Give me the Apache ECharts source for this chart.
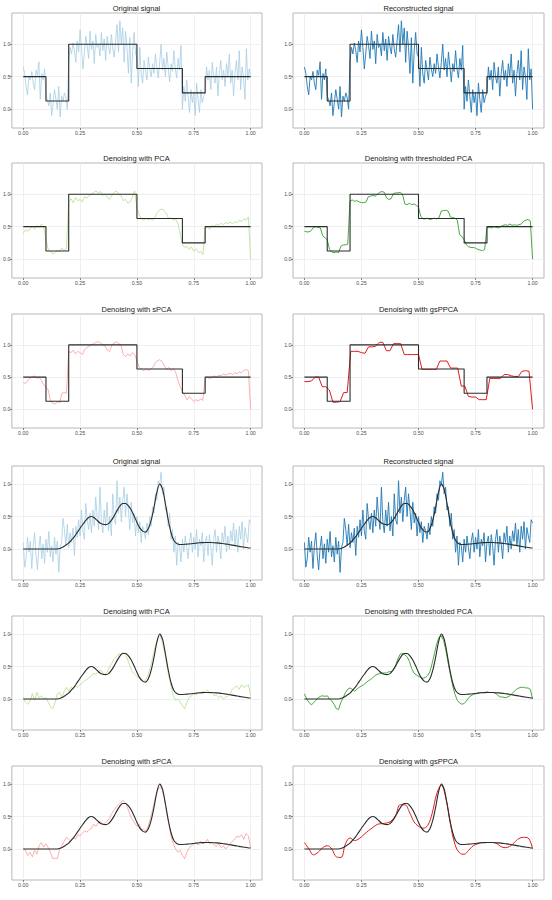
<!DOCTYPE html>
<html><head><meta charset="utf-8">
<script src="https://cdn.jsdelivr.net/npm/echarts@6/dist/echarts.min.js"></script>
<style>html,body{margin:0;padding:0;background:#fff}#c{width:552px;height:900px}</style>
</head><body><div id="c"></div>
<script>
// ---------- data ----------
const xTicks = [0, 0.25, 0.5, 0.75, 1];
const yTicks = [0, 0.5, 1];

const blocksTruthX = [0, 0.1, 0.1, 0.2, 0.2, 0.5, 0.5, 0.7, 0.7, 0.8, 0.8, 1];
const blocksTruthY = [0.5, 0.5, 0.125, 0.125, 1, 1, 0.625, 0.625, 0.25, 0.25, 0.5, 0.5];

const blocksNoisy = [
 0.65,0.55,0.35,0.22,0.5,0.45,0.58,0.4,0.3,0.6,
 0.52,0.73,0.15,0.55,0.45,0.62,0.2,0.15,0.05,0.25,
 -0.1,0.1,0.3,0.15,0.0,0.35,-0.12,0.2,0.12,0.25,
 0.18,0.0,0.75,0.95,0.85,1.02,0.9,0.72,1.05,0.88,
 1.22,0.95,0.62,0.85,1.12,0.98,0.78,1.2,0.92,1.05,
 0.7,1.15,0.95,1.0,0.82,1.18,0.9,1.08,0.75,1.12,
 0.96,0.85,1.15,0.93,0.8,1.05,1.3,0.88,1.36,1.0,
 1.25,0.72,1.2,0.95,0.55,1.1,0.4,0.9,1.18,0.85,
 0.8,0.35,0.95,0.55,0.4,0.75,0.6,0.45,0.8,0.62,
 0.5,0.7,0.55,0.85,0.65,0.48,0.72,1.0,0.6,0.78,
 0.5,0.88,0.65,0.42,0.7,0.58,0.9,0.62,0.48,0.78,
 0.6,0.98,0.0,0.35,0.12,0.45,0.2,-0.05,0.3,0.1,
 0.25,-0.1,0.4,0.15,-0.05,0.3,0.1,0.2,0.25,0.65,
 0.45,0.6,0.3,0.72,0.5,0.4,0.65,0.2,0.55,0.75,
 0.45,0.6,0.35,0.7,0.5,0.85,0.4,0.6,0.2,0.55,
 0.75,0.45,0.9,0.3,0.65,0.5,0.15,0.93,0.45,0.62,
 0.5];
const blocksReconLast = 0.0;

const blocksPCA = [
 0.4,0.45,0.43,0.47,0.5,0.46,0.52,0.49,0.54,0.5,
 0.3,0.15,0.12,0.08,0.1,0.14,0.12,0.17,0.14,0.16,
 0.88,0.93,0.87,0.95,0.9,0.92,0.88,0.96,0.94,0.98,
 1.0,1.03,1.05,1.02,1.04,0.98,1.0,0.95,0.92,0.98,
 1.03,1.05,1.0,0.98,0.9,0.92,0.86,0.88,0.95,1.05,
 0.78,0.68,0.62,0.6,0.63,0.6,0.62,0.6,0.65,0.72,
 0.76,0.77,0.75,0.7,0.62,0.64,0.6,0.62,0.55,0.4,
 0.22,0.18,0.2,0.15,0.19,0.12,0.16,0.1,0.12,0.07,
 0.48,0.5,0.46,0.52,0.5,0.54,0.52,0.55,0.53,0.56,
 0.55,0.57,0.54,0.58,0.56,0.6,0.58,0.62,0.6,0.65,
 0.0];

const blocksTPCA = [
 0.43,0.42,0.42,0.44,0.49,0.5,0.49,0.48,0.36,0.33,
 0.3,0.15,0.11,0.1,0.11,0.1,0.2,0.22,0.22,0.23,
 0.9,0.91,0.89,0.9,0.88,0.87,0.87,0.88,0.96,0.97,
 0.98,0.97,1.0,1.03,1.04,1.03,0.94,0.92,0.93,1.01,
 1.02,1.02,1.03,1.0,0.85,0.84,0.86,0.84,0.85,0.83,
 0.8,0.66,0.62,0.62,0.63,0.61,0.62,0.63,0.62,0.64,
 0.74,0.75,0.75,0.74,0.65,0.64,0.63,0.6,0.38,0.35,
 0.3,0.22,0.19,0.18,0.18,0.17,0.15,0.14,0.13,0.15,
 0.49,0.49,0.48,0.5,0.49,0.48,0.5,0.52,0.53,0.52,
 0.54,0.52,0.53,0.52,0.53,0.54,0.58,0.6,0.61,0.59,
 0.0];

const blocksSPCA = [
 0.42,0.4,0.45,0.48,0.5,0.52,0.48,0.5,0.45,0.38,
 0.35,0.3,0.12,0.1,0.08,0.12,0.1,0.25,0.26,0.25,
 0.9,0.88,0.92,0.86,0.9,0.88,0.85,0.93,0.96,0.98,
 1.0,1.02,1.04,1.05,1.03,1.0,0.98,0.92,0.9,1.0,
 1.03,1.05,1.02,1.0,0.85,0.82,0.86,0.83,0.88,0.85,
 0.75,0.65,0.62,0.6,0.63,0.6,0.62,0.65,0.72,0.75,
 0.77,0.74,0.68,0.62,0.65,0.6,0.63,0.58,0.45,0.35,
 0.28,0.22,0.15,0.2,0.16,0.12,0.15,0.13,0.16,0.14,
 0.48,0.5,0.47,0.5,0.52,0.5,0.53,0.52,0.55,0.53,
 0.55,0.56,0.54,0.57,0.55,0.58,0.57,0.6,0.62,0.6,
 0.0];

const blocksGS = [
 0.43,0.43,0.44,0.5,0.5,0.35,0.35,0.3,0.11,0.11,
 0.12,0.26,0.26,0.9,0.9,0.9,0.88,0.87,0.97,0.97,
 0.98,1.04,1.04,0.91,0.91,1.02,1.02,1.02,0.85,0.85,
 0.85,0.85,0.85,0.62,0.62,0.62,0.62,0.62,0.75,0.75,
 0.75,0.64,0.64,0.64,0.36,0.36,0.2,0.19,0.19,0.15,
 0.15,0.15,0.48,0.48,0.48,0.48,0.54,0.54,0.52,0.51,
 0.51,0.59,0.6,0.59,0.0];

const bumpsTruth = [
 0,0,0,0,0,0,0,0,0,0,0,0,0,
 0.01,0.03,0.06,0.09,0.14,0.19,0.255,0.32,0.38,0.44,0.485,0.5,
 0.48,0.44,0.4,0.38,0.375,0.39,0.44,0.51,0.59,0.66,0.7,0.7,
 0.665,0.6,0.51,0.41,0.325,0.275,0.26,0.31,0.44,0.64,0.87,1.0,
 0.92,0.7,0.45,0.25,0.13,0.085,0.07,0.07,0.072,0.076,0.08,0.085,
 0.09,0.095,0.098,0.1,0.1,0.099,0.097,0.094,0.09,0.085,0.079,0.072,
 0.064,0.056,0.048,0.04,0.033,0.026,0.02,0.015];

const bumpsNoisy = [
 0.1,-0.28,-0.15,0.18,-0.05,0.12,-0.3,0.05,0.25,-0.1,
 -0.32,0.02,0.2,-0.15,0.08,-0.22,0.15,-0.05,0.27,-0.12,
 0.05,-0.2,0.18,-0.08,0.12,-0.36,0.02,0.1,0.47,0.3,
 0.05,0.38,0.02,0.25,0.1,0.32,-0.1,0.35,0.18,0.45,
 0.2,0.6,0.28,0.15,0.7,0.45,0.3,0.55,0.25,0.6,
 0.35,0.8,0.5,0.3,0.95,0.42,0.25,0.6,0.35,0.72,
 0.28,0.5,0.2,0.85,0.45,0.38,1.05,0.55,0.8,0.42,
 0.75,0.95,0.5,0.85,0.6,0.3,0.72,0.4,0.55,0.2,
 0.5,0.25,0.42,0.1,0.35,0.28,0.15,0.4,0.22,0.5,
 0.35,0.65,0.55,0.85,0.75,1.05,0.98,1.18,0.85,0.95,
 0.6,0.65,0.35,0.55,0.15,0.3,-0.05,0.2,-0.25,0.1,
 0.05,-0.2,0.15,-0.05,0.2,0.02,-0.15,0.12,0.25,-0.05,
 0.18,0.0,0.3,-0.12,0.15,0.05,0.25,-0.2,0.1,0.2,
 -0.1,0.22,0.05,-0.25,0.15,0.3,-0.05,0.2,0.08,-0.15,
 0.25,0.1,0.35,-0.05,0.2,0.0,0.28,0.12,0.4,0.05,
 0.3,-0.05,0.35,0.15,0.42,0.0,0.33,0.2,0.1,0.45,
 0.4];

const bumpsPCA = [
 0.03,-0.05,-0.08,-0.03,0.08,-0.02,0.1,0.02,0.05,0.0,
 0.02,-0.05,-0.12,-0.15,-0.05,0.08,0.1,0.02,0.12,0.18,
 0.12,0.18,0.15,0.2,0.18,0.22,0.25,0.28,0.3,0.33,
 0.35,0.4,0.38,0.42,0.45,0.4,0.38,0.42,0.5,0.55,
 0.62,0.65,0.7,0.68,0.72,0.68,0.6,0.5,0.42,0.38,
 0.35,0.32,0.3,0.28,0.3,0.38,0.5,0.65,0.8,0.92,
 0.97,0.9,0.75,0.55,0.35,0.2,0.05,-0.02,0.0,-0.05,
 -0.1,-0.15,-0.05,0.02,0.05,0.08,0.06,0.1,0.08,0.12,
 0.1,0.14,0.08,0.1,0.05,0.06,0.02,0.05,0.0,0.03,
 0.05,0.08,0.15,0.18,0.2,0.15,0.22,0.18,0.2,0.22,
 0.05];

const bumpsTPCA = [
 0.08,0.0,-0.05,-0.09,-0.06,-0.02,0.02,0.04,0.05,0.04,
 0.05,0.0,-0.03,-0.08,-0.15,-0.16,-0.05,0.02,0.1,0.15,
 0.17,0.15,0.12,0.15,0.18,0.2,0.22,0.25,0.28,0.3,
 0.33,0.36,0.38,0.39,0.4,0.4,0.4,0.42,0.42,0.45,
 0.52,0.62,0.69,0.7,0.68,0.65,0.58,0.47,0.4,0.37,
 0.35,0.33,0.32,0.33,0.36,0.42,0.55,0.7,0.85,0.95,
 0.97,0.9,0.75,0.55,0.37,0.2,0.07,-0.02,-0.06,-0.08,
 -0.07,-0.03,0.02,0.05,0.07,0.08,0.09,0.1,0.1,0.1,
 0.11,0.1,0.1,0.1,0.08,0.05,0.03,0.03,0.02,0.03,
 0.05,0.08,0.12,0.15,0.17,0.18,0.18,0.17,0.17,0.15,
 0.0];

const bumpsSPCA = [
 0.02,-0.03,-0.1,-0.05,-0.12,-0.02,-0.08,0.05,0.1,0.03,
 0.08,0.02,-0.05,-0.15,-0.14,-0.15,0.0,0.05,0.12,0.18,
 0.15,0.12,0.18,0.15,0.22,0.2,0.24,0.28,0.26,0.3,
 0.32,0.38,0.35,0.4,0.42,0.38,0.4,0.43,0.48,0.55,
 0.6,0.65,0.68,0.72,0.75,0.7,0.62,0.52,0.45,0.4,
 0.35,0.38,0.3,0.3,0.28,0.35,0.48,0.62,0.78,0.9,
 0.95,0.92,0.78,0.58,0.38,0.2,0.08,0.0,-0.05,-0.02,
 -0.1,-0.15,-0.05,0.02,0.05,0.08,0.1,0.06,0.12,0.08,
 0.1,0.15,0.08,0.1,0.06,0.04,0.08,0.02,0.05,0.0,
 0.04,0.08,0.12,0.15,0.2,0.18,0.22,0.15,0.24,0.2,
 0.02];

const bumpsGS = [
 0.1,0.0,-0.09,-0.05,0.02,0.05,0.0,-0.12,-0.13,0.08,
 0.17,0.13,0.16,0.22,0.28,0.33,0.38,0.39,0.4,0.43,
 0.52,0.68,0.68,0.57,0.42,0.35,0.32,0.36,0.55,0.85,
 0.98,0.78,0.38,0.07,-0.06,-0.08,-0.02,0.05,0.08,0.1,
 0.1,0.1,0.09,0.04,0.02,0.04,0.1,0.16,0.18,0.17,
 0.0];

const panelTitles = ['Original signal', 'Reconstructed signal', 'Denoising with PCA',
  'Denoising with thresholded PCA', 'Denoising with sPCA', 'Denoising with gsPPCA'];

// ---------- layout / style ----------
const COL_LEFT = [11, 293];
const PLOT_W = 251;
const ROW_TOP = [13, 163, 314, 466, 616, 766];
const ROW_H = [115, 115, 114, 114, 114, 114];
const Y_RANGE = { blocks: [-0.29, 1.48], bumps: [-0.477, 1.277] };
const FONT = "'Liberation Sans', Arial, Helvetica, sans-serif";

const blocksRecon = blocksNoisy.slice(0, -1).concat([blocksReconLast]);

const panels = [
  { t: 0, set: 'blocks', values: blocksNoisy, color: '#a6cee3', w: 0.8 },
  { t: 1, set: 'blocks', values: blocksRecon, color: '#1f78b4', w: 0.9 },
  { t: 2, set: 'blocks', values: blocksPCA, color: '#b2df8a', w: 0.8 },
  { t: 3, set: 'blocks', values: blocksTPCA, color: '#33a02c', w: 0.9 },
  { t: 4, set: 'blocks', values: blocksSPCA, color: '#fb9a99', w: 0.8 },
  { t: 5, set: 'blocks', values: blocksGS, color: '#e31a1c', w: 1.0 },
  { t: 0, set: 'bumps', values: bumpsNoisy, color: '#a6cee3', w: 0.8 },
  { t: 1, set: 'bumps', values: bumpsNoisy, color: '#1f78b4', w: 0.9 },
  { t: 2, set: 'bumps', values: bumpsPCA, color: '#b2df8a', w: 0.8 },
  { t: 3, set: 'bumps', values: bumpsTPCA, color: '#33a02c', w: 0.9 },
  { t: 4, set: 'bumps', values: bumpsSPCA, color: '#fb9a99', w: 0.8 },
  { t: 5, set: 'bumps', values: bumpsGS, color: '#e31a1c', w: 1.0, smooth: 0.4 }
];

function pairs(vals) { const n = vals.length; return vals.map((v, i) => [i / (n - 1), v]); }

const chart = echarts.init(document.getElementById('c'), null, { renderer: 'svg', width: 552, height: 900 });
const grids = [], xAxes = [], yAxes = [], series = [], graphics = [];

panels.forEach((p, k) => {
  const r = Math.floor(k / 2), c = k % 2;
  const left = COL_LEFT[c], top = ROW_TOP[r], h = ROW_H[r];
  grids.push({ left: left, top: top, width: PLOT_W, height: h, show: true,
    borderColor: '#b8b8b8', borderWidth: 1, backgroundColor: 'transparent' });
  xAxes.push({ gridIndex: k, type: 'value', min: -0.05, max: 1.05, position: 'bottom',
    axisLine: { show: false, onZero: false },
    axisTick: { show: true, customValues: xTicks, length: 2, lineStyle: { color: '#555', width: 0.7 } },
    axisLabel: { customValues: xTicks, formatter: v => v.toFixed(2), fontSize: 5.3, color: '#4d4d4d', margin: 2, fontFamily: FONT },
    splitLine: { show: true, lineStyle: { color: '#ebebeb', width: 0.8 } } });
  const yr = Y_RANGE[p.set];
  yAxes.push({ gridIndex: k, type: 'value', min: yr[0], max: yr[1], position: 'left',
    axisLine: { show: false, onZero: false },
    axisTick: { show: true, customValues: yTicks, length: 2, lineStyle: { color: '#555', width: 0.7 } },
    axisLabel: { customValues: yTicks, formatter: v => v.toFixed(1), fontSize: 5.3, color: '#4d4d4d', margin: 1.5, fontFamily: FONT },
    splitLine: { show: true, lineStyle: { color: '#ebebeb', width: 0.8 } } });
  series.push({ type: 'line', xAxisIndex: k, yAxisIndex: k, data: pairs(p.values),
    showSymbol: false, symbol: 'none', smooth: p.smooth || false, silent: true, z: 2,
    lineStyle: { color: p.color, width: p.w } });
  const truth = p.set === 'blocks'
    ? blocksTruthX.map((x, i) => [x, blocksTruthY[i]])
    : pairs(bumpsTruth);
  series.push({ type: 'line', xAxisIndex: k, yAxisIndex: k, data: truth,
    showSymbol: false, symbol: 'none', smooth: p.set === 'bumps' ? 0.3 : false, silent: true, z: 3,
    lineStyle: { color: '#2b2b2b', width: 1.1 } });
  graphics.push({ type: 'text', x: left + PLOT_W / 2, y: top - 4.5, silent: true,
    style: { text: panelTitles[p.t], align: 'center', verticalAlign: 'middle',
      textAlign: 'center', textVerticalAlign: 'middle',
      fontSize: 7.5, fill: '#1a1a1a', fontFamily: FONT } });
});

chart.setOption({ animation: false, backgroundColor: '#ffffff',
  grid: grids, xAxis: xAxes, yAxis: yAxes, series: series, graphic: graphics });
</script>
</body></html>
